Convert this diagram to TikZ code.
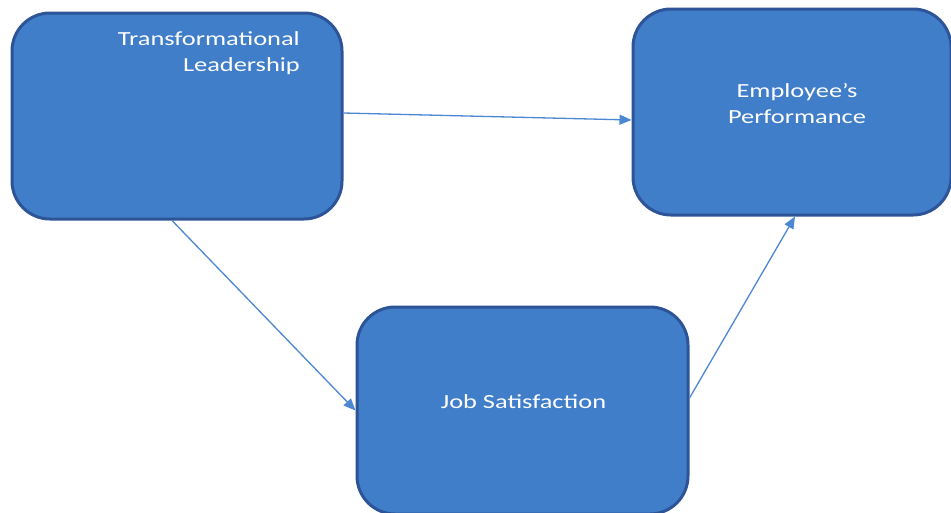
\documentclass[tikz,border=0pt]{standalone}
\usepackage{fontspec}
\setmainfont{Carlito}
\usetikzlibrary{arrows.meta}
\definecolor{boxfill}{RGB}{65,126,201}
\definecolor{boxline}{RGB}{44,84,150}
\definecolor{arrowc}{RGB}{75,135,210}
\newcommand\widetext[1]{\scalebox{1.32}[1]{#1}}
\tikzset{
  box/.style={draw=boxline, line width=3pt, fill=boxfill, rounded corners=38pt,
    inner sep=0pt, text=white, font=\fontsize{20}{26}\selectfont},
  label/.style={text=white, font=\fontsize{20}{26}\selectfont, inner sep=0pt},
  link/.style={draw=arrowc, line width=1.3pt, -{Triangle[length=12pt,width=10pt]}}
}
\begin{document}
\begin{tikzpicture}[x=1pt,y=-1pt]
\useasboundingbox (0,0) rectangle (951,512);
\clip (0,0) rectangle (951,512);
\node[box, minimum width=330pt, minimum height=206pt] (tl) at (177,116) {};
\node[box, minimum width=318pt, minimum height=206pt] (ep) at (792,112) {};
\node[box, minimum width=331pt, minimum height=207pt] (js) at (522.5,410.5) {};
\node[label, align=right, anchor=north east] (tlt) at (300,31) {\widetext{Transformational}\\\widetext{Leadership}};
\node[label, align=center] (ept) at (797,104) {\widetext{Employee’s}\\\widetext{Performance}};
\node[label] (jst) at (523.5,401.5) {\widetext{Job Satisfaction}};
\draw[link] ([yshift=3pt]tl.east) -- ([yshift=-8pt]ep.west);
\draw[link] ([xshift=-5pt]tl.south) -- (js.west);
\draw[link] ([yshift=12.5pt]js.east) -- ([xshift=3pt]ep.south);
\end{tikzpicture}
\end{document}
